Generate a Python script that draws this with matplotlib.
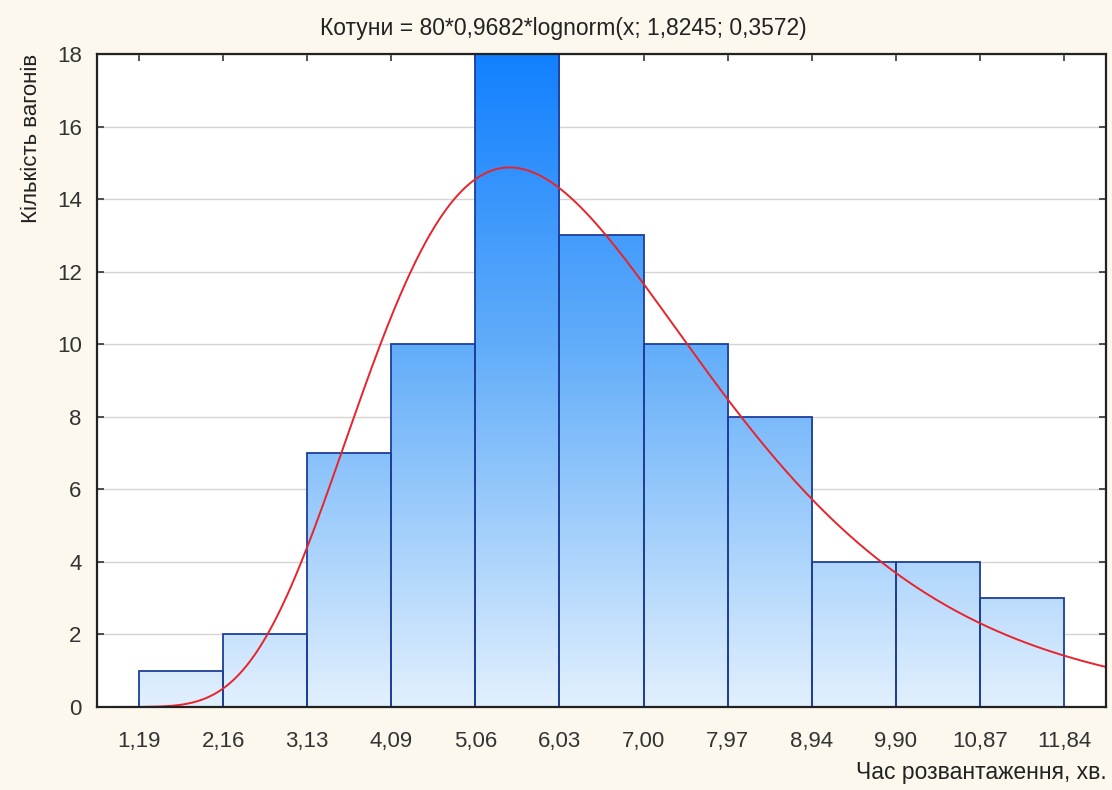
import numpy as np
import matplotlib.pyplot as plt
from matplotlib.colors import LinearSegmentedColormap

# =========================
# ДАНІ
# =========================

counts = [1, 2, 7, 10, 18, 13, 10, 8, 4, 4, 3]
x_start = 1.19
bin_width = 0.9682
tick_labels = ["1,19", "2,16", "3,13", "4,09", "5,06", "6,03",
               "7,00", "7,97", "8,94", "9,90", "10,87", "11,84"]

n_total = 80
mu = 1.8245
sigma = 0.3572

title = "Котуни = 80*0,9682*lognorm(x; 1,8245; 0,3572)"
xlabel = "Час розвантаження, хв."
ylabel = "Кількість вагонів"

# =========================
# ПОБУДОВА
# =========================

plt.rcParams['font.family'] = ['Liberation Sans', 'DejaVu Sans']

edges = x_start + bin_width * np.arange(len(counts) + 1)
lefts = edges[:-1]

fig = plt.figure(figsize=(11.12, 7.9), dpi=100, facecolor="#fcf8ee")
ax = fig.add_axes([97 / 1112, 1 - 707 / 790, (1106 - 97) / 1112, (707 - 54) / 790])
ax.set_facecolor("white")

xmin = edges[0] - bin_width / 2
xmax = edges[-1] + bin_width / 2
ymax = 18

cmap = LinearSegmentedColormap.from_list(
    "grad", [(0, "#e2f0fe"), (0.55, "#62adf9"), (1, "#1280ff")])
grad = np.linspace(1, 0, 256).reshape(-1, 1)

bars = ax.bar(lefts, counts, width=bin_width, align="edge",
              facecolor="none", edgecolor="#1d3f9c", linewidth=1.3, zorder=3)
for b in bars:
    im = ax.imshow(grad, cmap=cmap, aspect="auto", extent=(b.get_x(), b.get_x() + b.get_width(), 0, ymax),
                   vmin=0, vmax=1, zorder=2)
    im.set_clip_path(b)

xs = np.linspace(xmin, xmax, 600)
pdf = np.exp(-(np.log(xs) - mu) ** 2 / (2 * sigma ** 2)) / (xs * sigma * np.sqrt(2 * np.pi))
ax.plot(xs, n_total * bin_width * pdf, color="#e8232b", linewidth=1.4, zorder=4)

ax.set_xlim(xmin, xmax)
ax.set_ylim(0, ymax)
ax.set_xticks(edges)
ax.set_xticklabels(tick_labels)
ax.set_yticks(np.arange(0, 19, 2))

ax.yaxis.grid(True, color="#d4d4d4", linewidth=1)
ax.set_axisbelow(True)
ax.tick_params(axis="both", direction="in", top=True, right=True, length=5,
               width=1.2, labelsize=16, colors="#333333", labelcolor="#333333")
ax.tick_params(axis="x", pad=17)
ax.tick_params(axis="y", pad=11)
for s in ax.spines.values():
    s.set_linewidth(1.6)
    s.set_color("#222222")
    s.set_zorder(5)

fig.text(563 / 1112, 1 - 28 / 790, title, ha="center", va="center", fontsize=16.5, color="#222222")
fig.text(1107 / 1112, 1 - 773 / 790, xlabel, ha="right", va="center", fontsize=16.5, color="#222222")
fig.text(32 / 1112, 1 - 54 / 790, ylabel, ha="center", va="top", rotation=90, fontsize=16, color="#222222")

fig.savefig("out.png", dpi=100, facecolor=fig.get_facecolor())
